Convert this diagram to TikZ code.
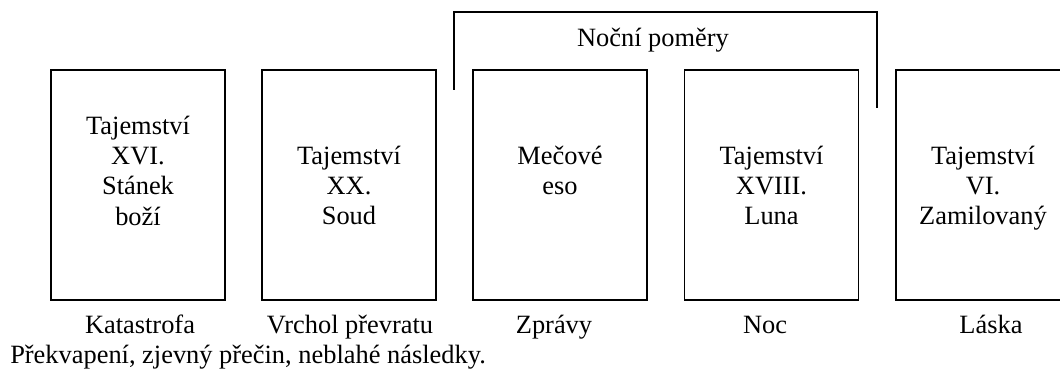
\documentclass[tikz,border=0pt]{standalone}
\usepackage{fontspec}
\setmainfont{Liberation Serif}
\usetikzlibrary{positioning,calc}

\begin{document}
\begin{tikzpicture}[x=0.75pt,y=0.75pt,
    every node/.style={font=\fontsize{19.8pt}{22.8pt}\selectfont},
    card/.style={draw,line width=1pt,minimum width=130.5pt,minimum height=172.5pt,inner sep=0pt},
    cardtext/.style={align=center,anchor=north,inner sep=0pt,execute at begin node=\strut},
    meaning/.style={anchor=base,inner sep=0pt}]
    \clip (0,0) rectangle (1060,372);

    % Tajemstvi XVI.
    \node[card] (card1) at (138,187) {};
    \node[cardtext] (text1) at (138,256.5) {Tajemství\\XVI.\\Stánek\\boží};
    \node[meaning] (mean1) at (140,39) {Katastrofa};

    % Tajemstvi XX.
    \node[card] (card2) at (349,187) {};
    \node[cardtext] (text2) at (349,226.5) {Tajemství\\XX.\\Soud};
    \node[meaning] (mean2) at (350,39) {Vrchol převratu};

    % Mecove eso
    \node[card] (card3) at (560,187) {};
    \node[cardtext] (text3) at (560,226.5) {Mečové\\eso};
    \node[meaning] (mean3) at (554,39) {Zprávy};

    % Tajemstvi XVIII.
    \node[card] (card4) at (771.5,187) {};
    \node[cardtext] (text4) at (771.5,226.5) {Tajemství\\XVIII.\\Luna};
    \node[meaning] (mean4) at (765,39) {Noc};

    % Tajemstvi VI.
    \node[card] (card5) at (983,187) {};
    \node[cardtext] (text5) at (983,226.5) {Tajemství\\VI.\\Zamilovaný};
    \node[meaning] (mean5) at (991,39) {Láska};

    % Nocni pomery
    \coordinate (brleft) at (454,282);
    \coordinate (brright) at (877,264);
    \draw[line width=1pt] (brleft) -- (454,360) -- (877,360) -- (brright);
    \node[meaning] (night) at (653,325) {Noční poměry};

    % summary
    \node[meaning,anchor=base west] (summary) at (10,9) {Překvapení, zjevný přečin, neblahé následky.};
\end{tikzpicture}
\end{document}
